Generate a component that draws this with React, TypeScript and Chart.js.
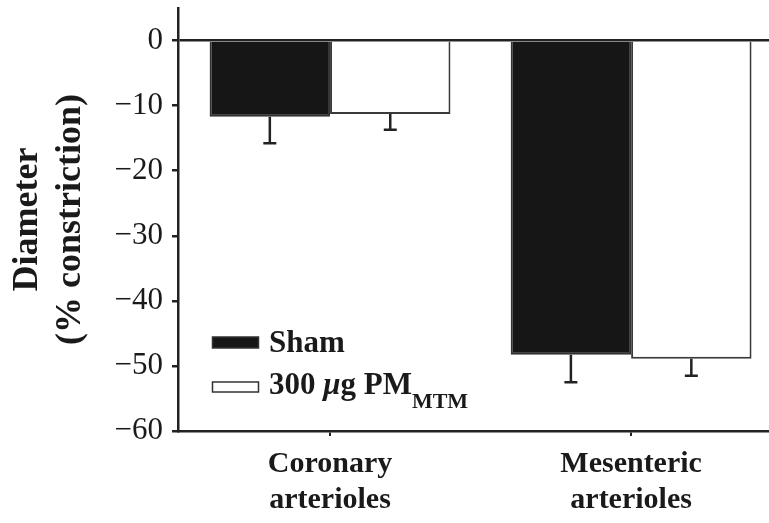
import React, { useEffect, useRef } from 'react';
import { Chart, registerables } from 'chart.js';

Chart.register(...registerables);

const categories: string[][] = [
  ['Coronary', 'arterioles'],
  ['Mesenteric', 'arterioles'],
];
const shamValues = [-11.7, -48.3];
const shamErrors = [4.1, 4.2];
const pmValues = [-11.3, -48.9];
const pmErrors = [2.4, 2.6];
const yTicks = [0, -10, -20, -30, -40, -50, -60];
const yTitle = ['Diameter', '(% constriction)'];
const shamLabelParts = [{ t: 'Sham', s: 'normal' }];
const pmLabelParts = [
  { t: '300 ', s: 'normal' },
  { t: 'μ', s: 'italic' },
  { t: 'g PM', s: 'normal' },
  { t: 'MTM', s: 'sub' },
];

const FAMILY = '"Liberation Serif", "Times New Roman", serif';
const TEXT = '#1a1a1a';
const LINE = '#222222';

const errorSets = [shamErrors, pmErrors];
const legendParts = [shamLabelParts, pmLabelParts];

const errorBarPlugin = {
  id: 'errorBars',
  afterDatasetsDraw(chart: any) {
    const ctx = chart.ctx;
    const yScale = chart.scales.y;
    chart.data.datasets.forEach((ds: any, di: number) => {
      const meta = chart.getDatasetMeta(di);
      const errs = errorSets[di];
      meta.data.forEach((bar: any, j: number) => {
        const v = ds.data[j].y;
        const e = errs[j];
        const x = bar.x;
        const y0 = bar.y;
        const y1 = yScale.getPixelForValue(v - e);
        ctx.save();
        ctx.strokeStyle = LINE;
        ctx.lineWidth = 2.5;
        ctx.beginPath();
        ctx.moveTo(x, y0);
        ctx.lineTo(x, y1);
        ctx.moveTo(x - 6.5, y1);
        ctx.lineTo(x + 6.5, y1);
        ctx.stroke();
        ctx.restore();
      });
    });
  },
};

const legendPlugin = {
  id: 'customLegend',
  afterDraw(chart: any) {
    const { ctx, chartArea } = chart;
    const boxX = chartArea.left + 34.5;
    const boxW = 46;
    const rows = [
      { boxTop: chartArea.bottom - 94, boxH: 11, baseline: chartArea.bottom - 79 },
      { boxTop: chartArea.bottom - 49, boxH: 10, baseline: chartArea.bottom - 37 },
    ];
    chart.data.datasets.forEach((ds: any, i: number) => {
      const r = rows[i];
      ctx.save();
      ctx.fillStyle = ds.backgroundColor;
      ctx.fillRect(boxX, r.boxTop, boxW, r.boxH);
      ctx.strokeStyle = '#333';
      ctx.lineWidth = 1.5;
      ctx.strokeRect(boxX, r.boxTop, boxW, r.boxH);
      let x = chartArea.left + 91;
      ctx.fillStyle = TEXT;
      ctx.textBaseline = 'alphabetic';
      ctx.textAlign = 'left';
      legendParts[i].forEach((p) => {
        let y = r.baseline;
        if (p.s === 'sub') {
          ctx.font = `bold 22px ${FAMILY}`;
          y += 14;
        } else if (p.s === 'italic') {
          ctx.font = `italic bold 31px ${FAMILY}`;
        } else {
          ctx.font = `bold 31px ${FAMILY}`;
        }
        ctx.fillText(p.t, x, y);
        x += ctx.measureText(p.t).width;
      });
      ctx.restore();
    });
  },
};

export default function App() {
  const ref = useRef<HTMLCanvasElement | null>(null);

  useEffect(() => {
    if (!ref.current) return;
    const chart = new Chart(ref.current, {
      type: 'bar',
      data: {
        datasets: [
          {
            label: 'Sham',
            data: shamValues.map((v, i) => ({ x: i + 1, y: v })),
            backgroundColor: '#161616',
            borderColor: '#333333',
            borderWidth: 2,
          },
          {
            label: '300 μg PM MTM',
            data: pmValues.map((v, i) => ({ x: i + 1, y: v })),
            backgroundColor: '#ffffff',
            borderColor: '#3a3a3a',
            borderWidth: 2,
          },
        ],
      } as any,
      options: {
        animation: false,
        responsive: false,
        maintainAspectRatio: false,
        layout: { padding: { top: 8, right: 0, left: 0, bottom: 0 } },
        plugins: { legend: { display: false }, tooltip: { enabled: false } },
        datasets: { bar: { categoryPercentage: 0.8, barPercentage: 1 } },
        scales: {
          x: {
            type: 'linear',
            min: 0.495,
            max: 2.458,
            offset: false,
            afterBuildTicks: (s: any) => {
              s.ticks = categories.map((_, i) => ({ value: i + 1 }));
            },
            afterFit: (s: any) => {
              s.height = 92;
              s.paddingLeft = 0;
              s.paddingRight = 0;
            },
            ticks: {
              callback: (v: any) => categories[Math.round(Number(v)) - 1],
              font: { family: FAMILY, size: 30, weight: 'bold', lineHeight: 1.2 },
              color: TEXT,
              padding: 10,
              maxRotation: 0,
              autoSkip: false,
            },
            grid: {
              display: true,
              drawOnChartArea: false,
              drawTicks: true,
              tickLength: 5,
              tickColor: LINE,
              lineWidth: 2,
              offset: false,
            },
            border: { display: true, color: LINE, width: 2.5 },
          },
          y: {
            min: -60,
            max: 5,
            afterBuildTicks: (s: any) => {
              s.ticks = yTicks.map((v) => ({ value: v }));
            },
            afterFit: (s: any) => {
              s.width = 178;
              s.paddingTop = 0;
              s.paddingBottom = 0;
            },
            ticks: {
              callback: (v: any) => (Number(v) < 0 ? '\u2212' + Math.abs(Number(v)) : String(v)),
              font: { family: FAMILY, size: 31 },
              color: TEXT,
              padding: 9,
            },
            grid: {
              drawOnChartArea: true,
              color: (c: any) => (c.tick && c.tick.value === 0 ? LINE : 'rgba(0,0,0,0)'),
              tickColor: LINE,
              tickLength: 6,
              lineWidth: 2.5,
            },
            border: { display: true, color: LINE, width: 2.5 },
            title: {
              display: true,
              text: yTitle,
              font: { family: FAMILY, size: 36, weight: 'bold', lineHeight: 1.2 },
              color: TEXT,
              padding: { top: 6, bottom: 0 },
            },
          },
        },
      } as any,
      plugins: [errorBarPlugin, legendPlugin],
    });
    return () => chart.destroy();
  }, []);

  return (
    <div style={{ position: 'absolute', left: 0, top: 0, width: 769, height: 523, background: '#fff' }}>
      <canvas ref={ref} width={769} height={523} style={{ display: 'block' }} />
    </div>
  );
}
